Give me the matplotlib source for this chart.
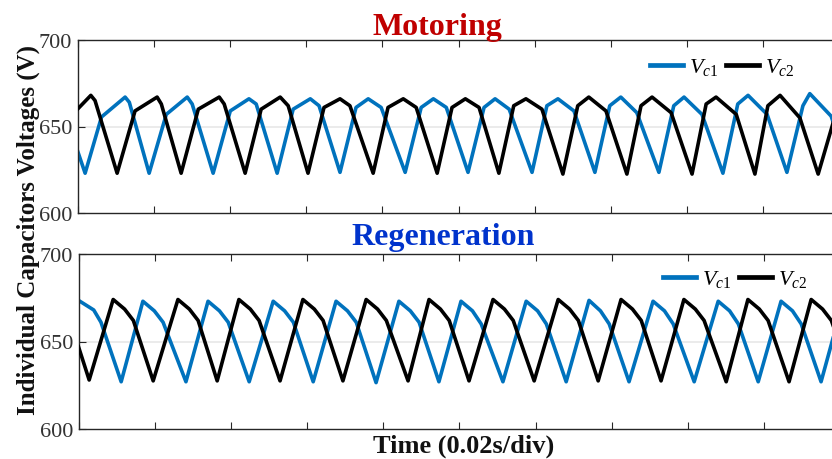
import matplotlib
matplotlib.use("Agg")
import matplotlib.pyplot as plt
from matplotlib.lines import Line2D

plt.rcParams["font.family"] = ["Liberation Serif", "DejaVu Serif"]
plt.rcParams["mathtext.fontset"] = "custom"
plt.rcParams["mathtext.rm"] = "Liberation Serif"
plt.rcParams["mathtext.it"] = "Liberation Serif:italic"

# ---------------------------------------------------------------- data (ms, V)
# Motoring: capacitor Vc1
mot_vc1_start_t = [0.0]
mot_vc1_start_v = [636.0]
mot_vc1_trough_t = [2.0, 18.8, 35.6, 52.4, 68.9, 86.0, 102.5, 119.3, 135.8, 152.6, 169.4, 186.2, 203.0]
mot_vc1_trough_v = [623.0, 623.0, 623.0, 623.0, 623.5, 623.5, 623.5, 623.5, 623.5, 623.5, 623.0, 623.5, 623.0]
mot_vc1_knee_t = [6.3, 23.3, 40.1, 56.6, 73.1, 90.2, 106.7, 123.2, 139.7, 156.5, 173.3, 190.4]
mot_vc1_knee_v = [655.5, 657.0, 659.0, 660.0, 661.0, 661.0, 661.0, 662.0, 662.0, 662.0, 663.0, 662.0]
mot_vc1_peak_t = [12.5, 28.8, 45.0, 61.1, 76.3, 93.4, 109.6, 126.1, 142.6, 159.2, 176.0, 192.2]
mot_vc1_peak_v = [667.0, 667.0, 666.0, 666.0, 666.0, 666.0, 666.0, 666.0, 667.0, 667.0, 668.0, 669.0]
mot_vc1_shoulder_t = [13.6, 30.1, 46.9, 63.4, 79.7, 96.8, 113.3, 130.3, 146.8, 163.9, 181.0, 197.8]
mot_vc1_shoulder_v = [664.0, 663.0, 663.0, 662.0, 661.0, 661.0, 660.0, 659.0, 658.0, 657.0, 657.0, 656.0]

# Motoring: capacitor Vc2
mot_vc2_start_t = [0.0, 3.5, 4.6]
mot_vc2_start_v = [660.0, 668.0, 665.0]
mot_vc2_trough_t = [10.4, 27.2, 44.0, 60.5, 77.6, 94.4, 110.6, 127.4, 144.2, 161.3, 177.8, 194.4]
mot_vc2_trough_v = [623.0, 623.0, 623.0, 623.0, 623.0, 623.0, 623.0, 622.5, 622.5, 622.5, 622.5, 622.5]
mot_vc2_knee_t = [15.1, 31.7, 48.2, 64.7, 81.5, 98.3, 114.5, 131.3, 147.9, 165.0, 181.2, 199.5]
mot_vc2_knee_v = [659.0, 660.0, 660.0, 661.0, 661.0, 661.0, 662.0, 662.0, 662.0, 663.0, 662.0, 661.0]
mot_vc2_peak_t = [20.9, 37.2, 53.2, 68.9, 85.5, 101.8, 117.7, 134.2, 150.8, 167.6, 184.4, 201.5]
mot_vc2_peak_v = [667.0, 667.0, 667.0, 666.0, 666.0, 666.0, 666.0, 667.0, 667.0, 667.0, 668.0, 668.0]
mot_vc2_shoulder_t = [22.0, 38.5, 55.3, 71.5, 88.9, 105.4, 121.9, 138.7, 155.8, 172.9, 189.6, 206.0]
mot_vc2_shoulder_v = [663.0, 663.0, 662.0, 662.0, 661.0, 661.0, 660.0, 659.0, 658.0, 657.0, 655.0, 655.0]

# Regeneration: capacitor Vc1
reg_vc1_start_t = [0.0, 4.0, 5.9]
reg_vc1_start_v = [673.5, 668.0, 661.0]
reg_vc1_trough_t = [11.2, 28.2, 44.8, 61.6, 78.1, 94.6, 111.4, 128.0, 144.5, 161.6, 178.4, 194.9]
reg_vc1_trough_v = [627.0, 627.0, 627.0, 627.0, 626.5, 627.0, 627.0, 627.0, 627.0, 627.0, 627.0, 627.0]
reg_vc1_peak_t = [16.9, 34.0, 51.1, 67.6, 84.1, 100.4, 117.5, 134.0, 150.8, 167.9, 184.4, 200.7]
reg_vc1_peak_v = [673.0, 673.0, 673.0, 673.0, 673.0, 673.0, 673.0, 673.5, 673.0, 673.0, 673.0, 673.0]
reg_vc1_mid_t = [19.9, 37.0, 54.1, 70.6, 87.1, 103.4, 120.5, 137.0, 153.8, 170.9, 187.4, 203.7]
reg_vc1_mid_v = [667.5, 667.5, 667.5, 667.5, 667.5, 667.5, 667.5, 667.5, 667.5, 667.5, 667.5, 667.5]
reg_vc1_shoulder_t = [22.2, 39.3, 56.4, 72.9, 89.4, 105.7, 122.8, 139.3, 156.1, 173.2, 189.7, 206.0]
reg_vc1_shoulder_v = [661.0, 661.0, 661.0, 661.0, 661.0, 660.0, 660.0, 660.0, 660.0, 660.0, 660.0, 660.0]

# Regeneration: capacitor Vc2
reg_vc2_start_t = [0.0]
reg_vc2_start_v = [647.0]
reg_vc2_trough_t = [2.8, 19.6, 36.4, 52.9, 69.4, 86.5, 102.5, 119.6, 136.4, 152.9, 170.0, 186.5, 203.3]
reg_vc2_trough_v = [628.0, 627.5, 627.5, 627.5, 627.5, 627.5, 627.5, 627.5, 627.5, 627.5, 627.0, 627.0, 627.0]
reg_vc2_peak_t = [9.1, 26.1, 42.1, 58.9, 75.5, 92.0, 108.8, 125.9, 142.4, 158.9, 175.7, 192.3]
reg_vc2_peak_v = [674.0, 674.0, 674.0, 674.0, 674.0, 674.0, 674.0, 674.0, 674.0, 674.0, 674.0, 674.0]
reg_vc2_mid_t = [12.1, 29.1, 45.1, 61.9, 78.5, 95.0, 111.8, 128.9, 145.4, 161.9, 178.7, 195.3]
reg_vc2_mid_v = [668.5, 668.5, 668.5, 668.5, 668.5, 668.5, 668.5, 668.5, 668.5, 668.5, 668.5, 668.5]
reg_vc2_shoulder_t = [14.4, 31.4, 47.4, 64.2, 80.8, 97.3, 114.1, 131.2, 147.7, 164.2, 181.0, 197.6]
reg_vc2_shoulder_v = [662.0, 662.0, 662.0, 662.0, 662.0, 662.0, 662.0, 662.0, 662.0, 662.0, 662.0, 662.0]

y_ticks = [600, 650, 700]
titles = ["Motoring", "Regeneration"]
title_colors = ["#C00000", "#0033CC"]
legend_labels = ["$V_{c1}$", "$V_{c2}$"]


def build_trace(start_t, start_v, troughs_t, troughs_v, pts_t, pts_v):
    """Chain the start points, then for every cycle: trough followed by its
    inner corner points (knee / peak / shoulder ...)."""
    ts = list(start_t)
    vs = list(start_v)
    for k in range(len(troughs_t)):
        ts.append(troughs_t[k])
        vs.append(troughs_v[k])
        if k < len(pts_t[0]):
            for pt, pv in zip(pts_t, pts_v):
                ts.append(pt[k])
                vs.append(pv[k])
    return ts, vs


mot_vc1 = build_trace(mot_vc1_start_t, mot_vc1_start_v, mot_vc1_trough_t, mot_vc1_trough_v,
                      [mot_vc1_knee_t, mot_vc1_peak_t, mot_vc1_shoulder_t],
                      [mot_vc1_knee_v, mot_vc1_peak_v, mot_vc1_shoulder_v])
mot_vc2 = build_trace(mot_vc2_start_t, mot_vc2_start_v, mot_vc2_trough_t, mot_vc2_trough_v,
                      [mot_vc2_knee_t, mot_vc2_peak_t, mot_vc2_shoulder_t],
                      [mot_vc2_knee_v, mot_vc2_peak_v, mot_vc2_shoulder_v])
reg_vc1 = build_trace(reg_vc1_start_t, reg_vc1_start_v, reg_vc1_trough_t, reg_vc1_trough_v,
                      [reg_vc1_peak_t, reg_vc1_mid_t, reg_vc1_shoulder_t],
                      [reg_vc1_peak_v, reg_vc1_mid_v, reg_vc1_shoulder_v])
reg_vc2 = build_trace(reg_vc2_start_t, reg_vc2_start_v, reg_vc2_trough_t, reg_vc2_trough_v,
                      [reg_vc2_peak_t, reg_vc2_mid_t, reg_vc2_shoulder_t],
                      [reg_vc2_peak_v, reg_vc2_mid_v, reg_vc2_shoulder_v])

BLUE = "#0072BD"
BLACK = "#000000"
AXC = "#262626"

W, H = 832, 460
fig = plt.figure(figsize=(W / 100, H / 100), dpi=100)


def px_rect(left, top, right, bottom):
    return [left / W, 1 - bottom / H, (right - left) / W, (bottom - top) / H]


ax_top = fig.add_axes(px_rect(77.5, 41, 839.5, 214))
ax_bot = fig.add_axes(px_rect(78.5, 255, 840.5, 430))

panels = [(ax_top, mot_vc1, mot_vc2), (ax_bot, reg_vc1, reg_vc2)]
for ax, s1, s2 in panels:
    ax.axhline(650, color="#E8E8E8", lw=1.2, zorder=0)
    ax.plot(s1[0], s1[1], color=BLUE, lw=2.6, solid_joinstyle="round", zorder=2)
    ax.plot(s2[0], s2[1], color=BLACK, lw=2.6, solid_joinstyle="round", zorder=3)
    ax.set_xlim(0, 200)
    ax.set_ylim(600, 700)
    ax.set_xticks(range(0, 201, 20))
    ax.set_xticklabels([])
    ax.set_yticks(y_ticks)
    ax.set_yticklabels([str(v) for v in y_ticks])
    ax.tick_params(axis="both", direction="in", length=5, width=0.8, color=AXC,
                   top=True, right=True, labelsize=16, labelcolor="#333333", pad=4)
    for sp in ax.spines.values():
        sp.set_color(AXC)
        sp.set_linewidth(1.0)

# panel titles
fig.text(437 / W, 1 - 35 / H, titles[0], ha="center", va="baseline",
         fontsize=23, fontweight="bold", color=title_colors[0])
fig.text(443 / W, 1 - 245 / H, titles[1], ha="center", va="baseline",
         fontsize=23, fontweight="bold", color=title_colors[1])

# shared axis labels
fig.text(28 / W, 0.5, "Individual Capacitors Voltages (V)", rotation=90,
         ha="center", va="center", fontsize=18, fontweight="bold", color="#111111")
fig.text(464 / W, 1 - 453 / H, "Time (0.02s/div)", ha="center", va="baseline",
         fontsize=19, fontweight="bold", color="#111111")

# legends
handles = [Line2D([], [], color=BLUE, lw=3.4), Line2D([], [], color=BLACK, lw=3.4)]
for ax, (lx, ly) in [(ax_top, (650, 68)), (ax_bot, (663, 280))]:
    ax.legend(handles, legend_labels, ncol=2, frameon=False, loc="center left",
              bbox_to_anchor=(lx / W, 1 - ly / H), bbox_transform=fig.transFigure,
              borderpad=0, borderaxespad=0, handlelength=1.5, handletextpad=0.25,
              columnspacing=0.35, fontsize=16)

fig.savefig("out.png", dpi=100)
